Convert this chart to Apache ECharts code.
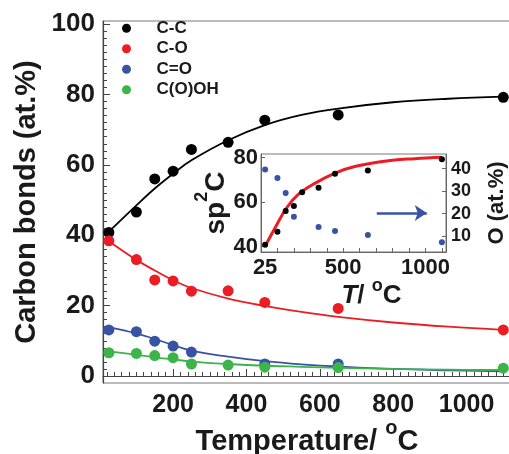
<!DOCTYPE html>
<html>
<head>
<meta charset="utf-8"/>
<script src="https://cdn.jsdelivr.net/npm/echarts@6/dist/echarts.min.js"></script>
<style>html,body{margin:0;padding:0;background:#fff;}</style>
</head>
<body>
<div id="main" style="width:509px;height:454px;"></div>
<script>
// main panel: XPS carbon bonds vs annealing temperature
var temps = [25, 100, 150, 200, 250, 350, 450, 650, 1100];
var ccVal = [40.8, 46.6, 56.0, 58.2, 64.4, 66.4, 72.7, 74.2, 79.2];
var coVal = [38.4, 33.1, 27.3, 27.0, 24.1, 24.2, 20.9, 19.2, 13.1];
var cdoTemps = [25, 100, 150, 200, 250, 450, 650];
var cdoVal = [13.1, 12.6, 9.9, 8.5, 6.8, 3.4, 3.4];
var coohVal = [6.6, 6.4, 5.8, 5.2, 3.4, 3.1, 2.5, 2.4, 2.2];

// fit curves
var fitT = [25, 100, 150, 200, 250, 350, 450, 550, 650, 800, 950, 1100];
var ccFit = [41, 48.5, 53.3, 57.5, 61.3, 67, 71.3, 74.2, 76, 77.8, 78.8, 79.4];
var coFit = [38.3, 33, 30, 27.2, 25, 22, 19.9, 18.2, 16.8, 15.2, 14, 13.1];
var cdoFit = [13.9, 12.1, 10.5, 8.8, 7.2, 5.5, 4.2, 3.3, 2.7, 2.0, 1.6, 1.3];
var coohFit = [7.0, 6.0, 5.3, 4.7, 4.1, 3.4, 2.9, 2.6, 2.3, 2.0, 1.8, 1.7];

// inset: sp2 C (left) and O content (right)
var oTemps = [25, 100, 150, 200, 350, 450, 650, 1100];
var oVal = [39.6, 35.9, 29.2, 18.6, 14.1, 12.3, 10.6, 7.3];
var spFitT = [25, 85, 155, 225, 330, 450, 570, 775, 935, 1100];
var spFit = [40.1, 48.3, 57.3, 63.3, 68.5, 73, 76, 78.6, 79.5, 80.1];

// tick labels
var xMajor = [200, 400, 600, 800, 1000];
var yMajor = [0, 20, 40, 60, 80, 100];
var insetXLabels = [25, 500, 1000];
var insetYLabels = [40, 60, 80];
var insetOLabels = [10, 20, 30, 40];

var xMinor = [], yMinor = [];
for (var i = 20; i <= 1100; i += 20) xMinor.push(i);
for (var j = 2; j <= 100; j += 2) yMinor.push(j);

function pairs(xs, ys) {
  var out = [];
  for (var k = 0; k < ys.length; k++) out.push([xs[k], ys[k]]);
  return out;
}
function plain(v) { return String(v); }

var FONT = "'Liberation Sans', Arial, sans-serif";
var INK = '#1a1a1a';
var AX = '#444';
var C_BLACK = '#000', C_RED = '#ec1c24', C_BLUE = '#3953a4', C_GREEN = '#3cb44a';

var chart = echarts.init(document.getElementById('main'));

function fitLine(name, t, v, color, xi, yi, w) {
  return {
    name: name, type: 'line', data: pairs(t, v),
    xAxisIndex: xi, yAxisIndex: yi,
    smooth: 0.4, showSymbol: false, silent: true,
    lineStyle: {color: color, width: w}, itemStyle: {color: color}, z: 2
  };
}
function dots(name, t, v, color, xi, yi, size) {
  return {
    name: name, type: 'scatter', data: pairs(t, v),
    xAxisIndex: xi, yAxisIndex: yi,
    symbolSize: size, itemStyle: {color: color, opacity: 1}, z: 3
  };
}

var option = {
  animation: false,
  backgroundColor: '#fff',
  textStyle: {fontFamily: FONT},
  legend: {
    data: ['C-C', 'C-O', 'C=O', 'C(O)OH'],
    orient: 'vertical', left: 122, top: 18, padding: 0,
    itemWidth: 50, itemHeight: 9, itemGap: 0, icon: 'circle',
    textStyle: {fontSize: 17, fontWeight: 'bold', color: INK, lineHeight: 20.5, fontFamily: FONT}
  },
  grid: [
    {left: 103, top: 21, right: -2, bottom: 71, show: true, borderColor: '#777', borderWidth: 1, outerBoundsMode: 'none'},
    {left: 261, top: 154, width: 185, height: 98, show: true, backgroundColor: '#fff', borderColor: '#777', borderWidth: 1, outerBoundsMode: 'none'}
  ],
  xAxis: [
    {
      gridIndex: 0, type: 'value', min: 9, max: 1121, position: 'bottom',
      axisLine: {lineStyle: {color: AX, width: 1.2}},
      axisTick: {inside: true, length: 7, customValues: xMajor, lineStyle: {color: AX}},
      axisLabel: {customValues: xMajor, formatter: plain, fontSize: 25, fontWeight: 'bold', color: INK, margin: 10, fontFamily: FONT},
      splitLine: {show: false},
      name: '{m|Temperature/ }{s|o}{m|C}', nameLocation: 'middle', nameGap: 35, nameMoveOverlap: false,
      nameTextStyle: {rich: {
        m: {fontSize: 29, fontWeight: 'bold', color: INK, lineHeight: 48, fontFamily: FONT},
        s: {fontSize: 20, fontWeight: 'bold', color: INK, lineHeight: 20, verticalAlign: 'top', fontFamily: FONT}
      }}
    },
    {
      gridIndex: 0, type: 'value', min: 9, max: 1121, position: 'bottom',
      axisLine: {show: false},
      axisTick: {inside: true, length: 4, customValues: xMinor, lineStyle: {color: AX}},
      axisLabel: {show: false}, splitLine: {show: false}
    },
    {
      gridIndex: 1, type: 'value', min: 0, max: 1125, interval: 100, position: 'bottom',
      axisLine: {lineStyle: {color: '#666'}},
      axisTick: {inside: true, length: 4, lineStyle: {color: '#666'}},
      axisLabel: {customValues: insetXLabels, formatter: plain, fontSize: 22, fontWeight: 'bold', color: INK, margin: 5, fontFamily: FONT},
      splitLine: {show: false},
      name: '{i|T}{m|/ }{s|o}{m|C}', nameLocation: 'middle', nameGap: 25, nameMoveOverlap: false,
      nameTextStyle: {padding: [0, 0, 0, 36], rich: {
        i: {fontSize: 26, fontWeight: 'bold', fontStyle: 'italic', color: INK, lineHeight: 38, fontFamily: FONT},
        m: {fontSize: 26, fontWeight: 'bold', color: INK, lineHeight: 38, fontFamily: FONT},
        s: {fontSize: 18, fontWeight: 'bold', color: INK, lineHeight: 18, verticalAlign: 'top', fontFamily: FONT}
      }}
    }
  ],
  yAxis: [
    {
      gridIndex: 0, type: 'value', min: -2, max: 100.9, position: 'left',
      axisLine: {lineStyle: {color: AX, width: 1.2}},
      axisTick: {inside: true, length: 7, customValues: yMajor, lineStyle: {color: AX}},
      axisLabel: {customValues: yMajor, formatter: plain, fontSize: 26, fontWeight: 'bold', color: INK, margin: 8, fontFamily: FONT},
      splitLine: {show: false},
      name: 'Carbon bonds (at.%)', nameLocation: 'middle', nameGap: 62, nameRotate: 90, nameMoveOverlap: false,
      nameTextStyle: {fontSize: 29, fontWeight: 'bold', color: INK, fontFamily: FONT}
    },
    {
      gridIndex: 0, type: 'value', min: -2, max: 100.9, position: 'left',
      axisLine: {show: false},
      axisTick: {inside: true, length: 4, customValues: yMinor, lineStyle: {color: AX}},
      axisLabel: {show: false}, splitLine: {show: false}
    },
    {
      gridIndex: 1, type: 'value', min: 37.5, max: 81.6, position: 'left',
      axisLine: {lineStyle: {color: '#666'}},
      axisTick: {inside: true, length: 4, customValues: insetYLabels, lineStyle: {color: '#666'}},
      axisLabel: {customValues: insetYLabels, formatter: plain, fontSize: 22, fontWeight: 'bold', color: INK, margin: 3, fontFamily: FONT},
      splitLine: {show: false},
      name: '{m|sp}{s|2}{m|C}', nameLocation: 'middle', nameGap: 22, nameRotate: 90, nameMoveOverlap: false,
      nameTextStyle: {rich: {
        m: {fontSize: 28, fontWeight: 'bold', color: INK, lineHeight: 46, fontFamily: FONT},
        s: {fontSize: 18, fontWeight: 'bold', color: INK, lineHeight: 18, verticalAlign: 'top', fontFamily: FONT}
      }}
    },
    {
      gridIndex: 1, type: 'value', min: 3, max: 46.5, position: 'right',
      axisLine: {lineStyle: {color: '#666'}},
      axisTick: {inside: true, length: 4, customValues: insetOLabels, lineStyle: {color: '#666'}},
      axisLabel: {customValues: insetOLabels, formatter: plain, fontSize: 18, fontWeight: 'bold', color: INK, margin: 5, fontFamily: FONT},
      splitLine: {show: false},
      name: 'O (at.%)', nameLocation: 'middle', nameGap: 40, nameRotate: 90, nameMoveOverlap: false,
      nameTextStyle: {fontSize: 22, fontWeight: 'bold', color: INK, fontFamily: FONT}
    }
  ],
  series: [
    fitLine('C-C fit', fitT, ccFit, C_BLACK, 0, 0, 1.8),
    fitLine('C-O fit', fitT, coFit, C_RED, 0, 0, 1.8),
    fitLine('C=O fit', fitT, cdoFit, C_BLUE, 0, 0, 1.8),
    fitLine('C(O)OH fit', fitT, coohFit, C_GREEN, 0, 0, 1.8),
    dots('C-C', temps, ccVal, C_BLACK, 0, 0, 11),
    dots('C-O', temps, coVal, C_RED, 0, 0, 11),
    dots('C=O', cdoTemps, cdoVal, C_BLUE, 0, 0, 11),
    dots('C(O)OH', temps, coohVal, C_GREEN, 0, 0, 11),
    // inset
    fitLine('sp2 fit', spFitT, spFit, C_RED, 2, 2, 3),
    dots('sp2C', temps, ccVal, C_BLACK, 2, 2, 6),
    (function () {
      var s = dots('O', oTemps, oVal, C_BLUE, 2, 3, 6);
      s.markLine = {
        silent: true, symbol: ['none', 'arrow'], symbolSize: [12, 12],
        label: {show: false},
        lineStyle: {color: C_BLUE, width: 2.5, type: 'solid'},
        data: [[{coord: [704, 20.3]}, {coord: [1008, 20.3]}]]
      };
      return s;
    })()
  ]
};

chart.setOption(option);
</script>
</body>
</html>
